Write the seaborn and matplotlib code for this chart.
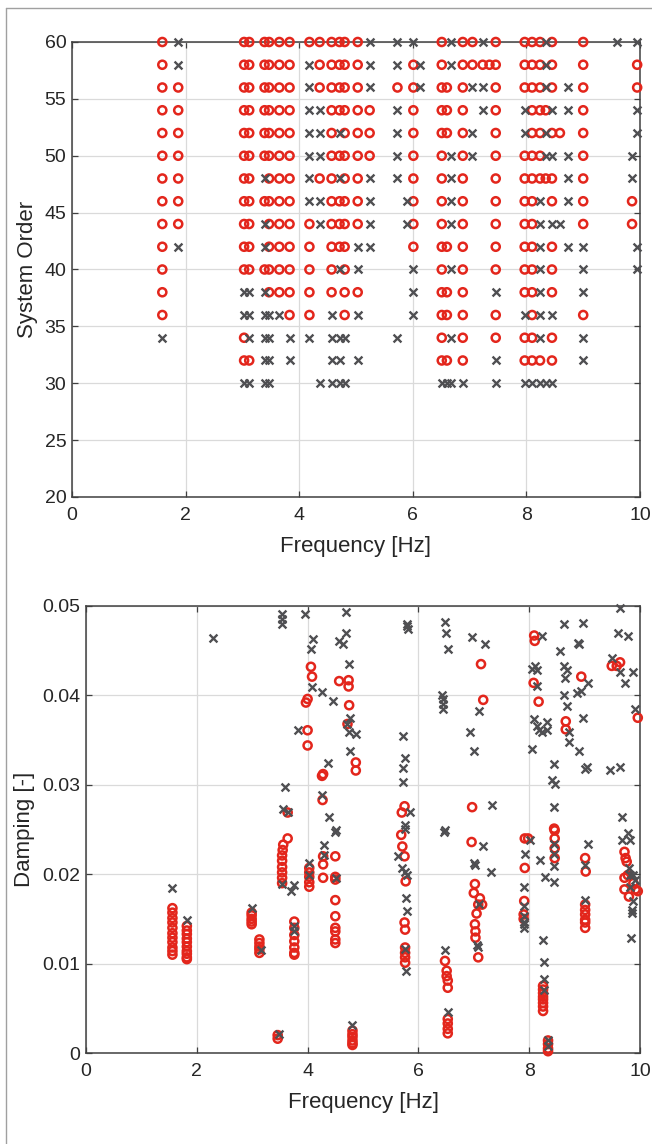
import matplotlib
matplotlib.use("Agg")
import matplotlib.pyplot as plt
from matplotlib.lines import Line2D
import numpy as np
import pandas as pd
import seaborn as sns

# =======================
# Data: stabilisation diagram (top)
# =======================
ORDERS = list(range(60, 29, -2))  # 60, 58, ..., 30

# one column per pole frequency, marks read from order 60 down to 30
# 'o' = stable, 'x' = unstable, '.' = nothing
POLE_FREQ = [1.59, 1.87, 3.03, 3.12, 3.39, 3.47, 3.65, 3.83,
             4.18, 4.36, 4.57, 4.71, 4.80, 5.03, 5.24, 5.73,
             5.89, 6.01, 6.12, 6.51, 6.60, 6.68, 6.88, 7.05,
             7.23, 7.35, 7.46, 7.97, 8.10, 8.24, 8.34, 8.45,
             8.59, 8.73, 9.00, 9.59, 9.86, 9.95]
POLE_MARKS = [
    "ooooooooooooox..",  # 1.59
    "xxooooooox......",  # 1.87
    "oooooooooooxxoox",  # 3.03
    "oooooooooooxxxox",  # 3.12
    "ooooooxoxxoxxxxx",  # 3.39
    "ooooooooooooxxxx",  # 3.47
    "oooooooooooox...",  # 3.65
    "oooooooooooooxx.",  # 3.83
    "oxxxxxxxooooox..",  # 4.18
    "oooxxxoxx......x",  # 4.36
    "ooooooooooooxxxx",  # 4.57
    "ooooxoxooox..xxx",  # 4.71
    "ooooooooooooox.x",  # 4.80
    "oooooooooxxox.x.",  # 5.03
    "xxxoooxxxx......",  # 5.24
    "xxoxxxx......x..",  # 5.73
    ".......xx.......",  # 5.89
    "xoooooooooxxx...",  # 6.01
    ".xx.............",  # 6.12
    "ooooooooooooooox",  # 6.51
    "..ooo....o.oo.ox",  # 6.60
    "xx...xxxx.x..x.x",  # 6.68
    "ooooooooooooooox",  # 6.88
    "oox.xx..........",  # 7.05
    "xoxx............",  # 7.23
    ".o..............",  # 7.35
    "oooooooooooxooxx",  # 7.46
    "oooxxoooooooxoox",  # 7.97
    "ooooooooooooooox",  # 8.10
    "oooooooxxxxxxxox",  # 8.24
    "xxxoxxo........x",  # 8.34
    "oooxoxooxoooxoox",  # 8.45
    "....o...x.......",  # 8.59
    "..xx.xxx.x......",  # 8.73
    "oooooooooxxxoxx.",  # 9.00
    "x...............",  # 9.59
    ".....xxoo.......",  # 9.86
    "xooxx....xx.....",  # 9.95
]

# =======================
# Data: damping vs frequency (bottom)
# =======================
STABLE_F = [4.06, 4.08, 3.97, 4.00, 4.57, 4.74, 4.74, 4.75, 4.72, 4.00, 4.00, 4.87, 4.87, 4.26, 4.28, 4.27, 3.64,
            7.13, 7.17, 8.09, 8.10, 8.08, 8.17, 8.94, 8.66, 8.66, 8.45, 6.97, 5.75, 5.70, 9.96, 9.49, 9.64, 9.58,
            1.56, 1.56, 1.56, 1.56, 1.56, 1.56, 1.56, 1.56, 1.56, 1.56, 1.56,
            1.82, 1.82, 1.82, 1.82, 1.82, 1.82, 1.82, 1.82, 1.82, 1.82,
            2.99, 2.99, 2.99, 2.99, 2.99,
            3.13, 3.13, 3.13, 3.13, 3.13,
            3.46, 3.46,
            3.64, 3.56, 3.55, 3.54, 3.54, 3.54, 3.54, 3.54, 3.54,
            3.76, 3.76, 3.76, 3.76, 3.76, 3.76, 3.76,
            4.03, 4.03, 4.03, 4.03, 4.03,
            4.28, 4.28, 4.28,
            4.50, 4.50, 4.50, 4.50, 4.50, 4.50, 4.50, 4.50, 4.50,
            4.81, 4.81, 4.81, 4.81, 4.81, 4.81,
            5.69, 5.71, 5.75, 5.77, 5.75, 5.76, 5.76, 5.76, 5.76, 5.76,
            6.48, 6.51, 6.51, 6.53, 6.53, 6.53, 6.53, 6.53, 6.53,
            6.96, 7.02, 7.00, 7.11, 7.15, 7.08, 7.05, 7.02, 7.03, 7.03, 7.08,
            7.92, 7.98, 7.92, 7.91, 7.90, 7.90,
            8.46, 8.46, 8.46, 8.46,
            8.25, 8.25, 8.25, 8.25, 8.25, 8.25, 8.25, 8.25,
            8.34, 8.34, 8.34, 8.34,
            9.01, 9.02, 9.01, 9.01, 9.01, 9.01, 9.01, 9.01,
            9.72, 9.74, 9.76, 9.78, 9.72, 9.88, 9.92, 9.96, 9.80, 9.72]
STABLE_D = [.0432, .0421, .0392, .0396, .0416, .0417, .0410, .0389, .0368, .0361, .0344, .0325, .0316, .0310, .0312, .0283, .0269,
            .0435, .0395, .0467, .0461, .0414, .0393, .0421, .0371, .0362, .0251, .0275, .0276, .0269, .0375, .0433, .0437, .0433,
            .0162, .0157, .0151, .0146, .0140, .0134, .0129, .0124, .0118, .0114, .0110,
            .0142, .0137, .0133, .0128, .0124, .0119, .0114, .0111, .0107, .0105,
            .0157, .0154, .0150, .0147, .0144,
            .0127, .0123, .0119, .0116, .0112,
            .0020, .0016,
            .0240, .0233, .0227, .0221, .0215, .0208, .0202, .0196, .0190,
            .0147, .0140, .0132, .0125, .0118, .0112, .0110,
            .0207, .0202, .0197, .0191, .0186,
            .0220, .0211, .0196,
            .0220, .0197, .0194, .0171, .0153, .0140, .0136, .0127, .0123,
            .0025, .0021, .0018, .0014, .0011, .0009,
            .0244, .0231, .0220, .0192, .0146, .0138, .0118, .0112, .0107, .0101,
            .0103, .0092, .0086, .0081, .0073, .0038, .0033, .0027, .0022,
            .0236, .0189, .0179, .0173, .0166, .0166, .0156, .0144, .0136, .0129, .0107,
            .0240, .0240, .0207, .0170, .0155, .0150,
            .0249, .0240, .0229, .0218,
            .0075, .0071, .0067, .0063, .0060, .0056, .0052, .0047,
            .0014, .0010, .0005, .0002,
            .0218, .0203, .0166, .0160, .0155, .0149, .0146, .0140,
            .0225, .0218, .0214, .0199, .0196, .0190, .0183, .0181, .0175, .0183]

UNSTABLE_F = [2.29, 3.54, 3.54, 3.54, 3.96, 4.69, 4.09, 4.06, 4.57, 4.63, 4.69, 4.74, 4.08, 4.26, 4.46, 4.76, 4.72,
              4.74, 4.87, 3.82, 4.76, 4.36, 3.60, 4.26, 3.55, 3.64, 4.38, 4.51,
              9.64, 5.79, 5.82, 5.79, 6.48, 6.49, 6.53, 6.96, 7.20, 7.09, 6.42, 6.45, 6.45, 6.45, 6.93, 7.01,
              8.23, 8.62, 8.98, 8.56, 8.88, 8.90, 8.05, 8.11, 8.14, 8.14, 8.62, 8.68, 8.65, 9.07, 8.62, 8.86,
              8.94, 8.68, 8.71, 8.71, 8.98, 8.08, 8.14, 8.17, 8.32, 8.32, 8.23, 8.05, 8.89, 8.45, 9.01, 9.04,
              9.46, 9.64, 8.41, 8.47, 8.45, 9.67, 7.33, 5.85, 5.76, 6.48, 5.73, 5.75, 5.72, 5.72, 9.91, 9.49,
              9.64, 9.73, 9.88, 9.61, 9.79,
              1.56, 1.82, 2.99, 3.16, 3.49, 3.54, 3.70, 3.76, 3.76, 3.76, 4.03, 4.03, 4.30, 4.30, 4.50, 4.51, 4.81,
              5.76, 5.64, 5.70, 5.76, 5.79, 5.77, 5.79, 5.76, 5.77, 6.47, 6.48, 6.54, 7.16, 7.01, 7.02, 7.31,
              7.09, 7.05, 7.08, 8.01, 7.92, 7.91, 7.91, 7.90, 7.90, 7.90, 7.90, 8.20, 8.29, 8.44, 8.44, 8.44,
              8.44, 8.25, 8.26, 8.26, 8.26, 8.34, 8.34, 9.07, 9.01, 9.01, 9.67, 9.79, 9.82, 9.80, 9.82, 9.88,
              9.91, 9.82, 9.88, 9.85, 9.85, 9.84]
UNSTABLE_D = [.0464, .0491, .0485, .0480, .0491, .0493, .0463, .0452, .0461, .0457, .0470, .0435, .0409, .0404, .0394, .0375, .0368,
              .0359, .0357, .0361, .0338, .0324, .0297, .0289, .0273, .0270, .0264, .0249,
              .0498, .0480, .0474, .0478, .0482, .0470, .0452, .0465, .0457, .0382, .0401, .0396, .0390, .0385, .0359, .0338,
              .0467, .0480, .0481, .0450, .0459, .0457, .0429, .0433, .0428, .0411, .0433, .0428, .0420, .0414, .0401, .0403,
              .0405, .0388, .0359, .0348, .0375, .0374, .0366, .0361, .0370, .0361, .0359, .0340, .0338, .0323, .0318, .0320,
              .0316, .0320, .0305, .0301, .0275, .0264, .0277, .0270, .0255, .0249, .0355, .0330, .0319, .0303, .0385, .0442,
              .0426, .0414, .0426, .0470, .0467,
              .0185, .0149, .0162, .0115, .0021, .0189, .0181, .0188, .0142, .0136, .0213, .0199, .0233, .0221, .0247, .0196, .0031,
              .0251, .0220, .0207, .0203, .0199, .0173, .0159, .0116, .0092, .0247, .0115, .0046, .0232, .0213, .0210, .0203,
              .0167, .0121, .0119, .0238, .0223, .0186, .0164, .0153, .0147, .0144, .0140, .0216, .0197, .0191, .0234, .0223,
              .0209, .0126, .0102, .0083, .0070, .0015, .0008, .0234, .0210, .0171, .0238, .0246, .0238, .0207, .0199, .0199,
              .0194, .0186, .0170, .0160, .0157, .0129]

RED = "#E3261C"
GRAY = "#4F4F52"

# =======================
# Build tables
# =======================
rows = []
for f, marks in zip(POLE_FREQ, POLE_MARKS):
    assert len(marks) == len(ORDERS), (f, marks)
    for order, m in zip(ORDERS, marks):
        if m == "o":
            rows.append((f, order, "stable"))
        elif m == "x":
            rows.append((f, order, "unstable"))
poles = pd.DataFrame(rows, columns=["freq", "order", "kind"])

damp = pd.concat([
    pd.DataFrame({"freq": STABLE_F, "damping": STABLE_D, "kind": "stable"}),
    pd.DataFrame({"freq": UNSTABLE_F, "damping": UNSTABLE_D, "kind": "unstable"}),
], ignore_index=True)

# =======================
# Style
# =======================
sns.set_theme(style="ticks")
plt.rcParams["font.family"] = ["Liberation Sans", "DejaVu Sans"]

fig = plt.figure(figsize=(6.52, 11.44), dpi=100)
ax1 = fig.add_axes([72 / 652, 1 - 497 / 1144, (640 - 72) / 652, (497 - 42) / 1144])
ax2 = fig.add_axes([86 / 652, 1 - 1053 / 1144, (640 - 86) / 652, (1053 - 606) / 1144])


def draw(ax, data, ycol):
    st = data[data["kind"] == "stable"]
    un = data[data["kind"] == "unstable"]
    sns.scatterplot(data=st, x="freq", y=ycol, ax=ax, marker="o", s=34,
                    color=RED, facecolors="none", edgecolor=RED, linewidth=1.8,
                    clip_on=False, zorder=3)
    sns.scatterplot(data=un, x="freq", y=ycol, ax=ax, marker="x", s=32,
                    color=GRAY, linewidth=1.7, clip_on=False, zorder=4)


def style(ax):
    ax.grid(True, color="#DADADA", linewidth=0.9)
    ax.set_axisbelow(True)
    for sp in ax.spines.values():
        sp.set_visible(True)
        sp.set_color("#404040")
        sp.set_linewidth(1.1)
    ax.tick_params(direction="in", length=4, width=0.9, color="#404040",
                   top=True, right=True, labelsize=14, labelcolor="#262626", pad=4)
    ax.tick_params(axis="x", pad=7)
    ax.set_xlim(0, 10)
    ax.set_xticks(np.arange(0, 11, 2))


draw(ax1, poles, "order")
style(ax1)
ax1.set_ylim(20, 60)
ax1.set_yticks(np.arange(20, 61, 5))
ax1.set_xlabel("Frequency [Hz]", fontsize=16, color="#262626", labelpad=9)
ax1.set_ylabel("System Order", fontsize=16, color="#262626", labelpad=5)

draw(ax2, damp, "damping")
style(ax2)
ax2.set_ylim(0, 0.05)
ax2.set_yticks(np.arange(0, 0.051, 0.01))
ax2.set_yticklabels(["0", "0.01", "0.02", "0.03", "0.04", "0.05"])
ax2.set_xlabel("Frequency [Hz]", fontsize=16, color="#262626", labelpad=9)
ax2.set_ylabel("Damping [-]", fontsize=16, color="#262626", labelpad=5)

# thin frame of the original figure panel
fig.add_artist(Line2D([6 / 652, 6 / 652], [0, 1 - 8 / 1144], transform=fig.transFigure,
                      color="#A0A0A0", linewidth=1.0))
fig.add_artist(Line2D([6 / 652, 1], [1 - 8 / 1144, 1 - 8 / 1144], transform=fig.transFigure,
                      color="#A0A0A0", linewidth=1.0))

fig.savefig("out.png", dpi=100, facecolor="white")
